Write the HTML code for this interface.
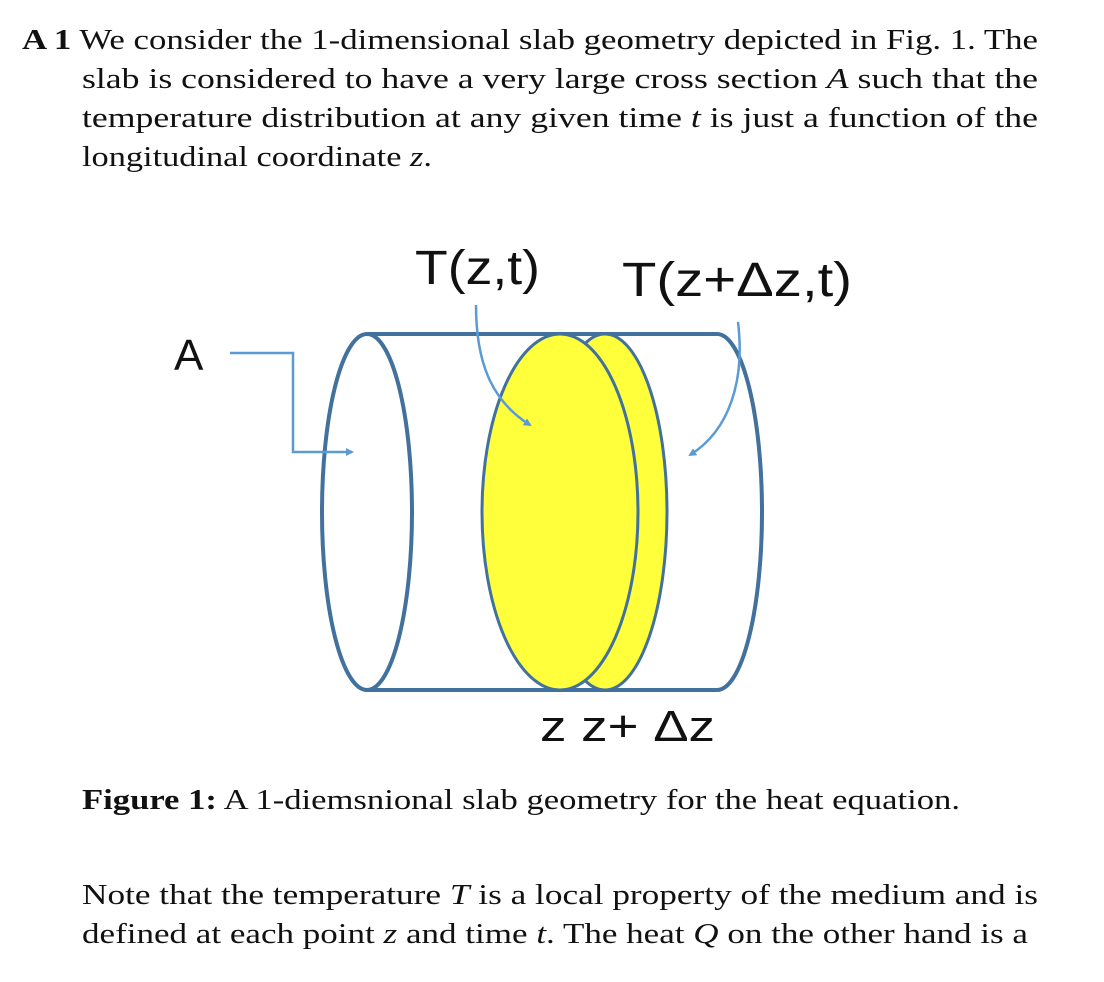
<!DOCTYPE html>
<html><head><style>
body{margin:0;width:1104px;height:982px;background:#fff;position:relative;overflow:hidden}
</style></head><body>
<svg width="1104" height="982" style="position:absolute;left:0;top:0">
<defs><marker id="ar" markerWidth="8" markerHeight="8" refX="6" refY="4" orient="auto" markerUnits="userSpaceOnUse"><path d="M0,0L8,4L0,8z" fill="#5b9bd5"/></marker></defs>
<g font-family="Liberation Serif, serif" font-size="29" fill="#111">
<text x="22" y="49" textLength="1016" lengthAdjust="spacingAndGlyphs"><tspan font-weight="bold">A 1</tspan> We consider the 1-dimensional slab geometry depicted in Fig. 1. The</text>
<text x="82" y="88" textLength="956" lengthAdjust="spacingAndGlyphs">slab is considered to have a very large cross section <tspan font-style="italic">A</tspan> such that the</text>
<text x="82" y="127" textLength="956" lengthAdjust="spacingAndGlyphs">temperature distribution at any given time <tspan font-style="italic">t</tspan> is just a function of the</text>
<text x="82" y="166" textLength="350" lengthAdjust="spacingAndGlyphs">longitudinal coordinate <tspan font-style="italic">z</tspan>.</text>
<text x="82" y="809" textLength="878" lengthAdjust="spacingAndGlyphs"><tspan font-weight="bold">Figure 1:</tspan> A 1-diemsnional slab geometry for the heat equation.</text>
<text x="82" y="904" textLength="956" lengthAdjust="spacingAndGlyphs">Note that the temperature <tspan font-style="italic">T</tspan> is a local property of the medium and is</text>
<text x="82" y="943" textLength="946" lengthAdjust="spacingAndGlyphs">defined at each point <tspan font-style="italic">z</tspan> and time <tspan font-style="italic">t</tspan>. The heat <tspan font-style="italic">Q</tspan> on the other hand is a</text>
</g>
<g stroke="#41719c" stroke-width="4" fill="none">
<path d="M367,334 H717 A45,178 0 0 1 717,690 H367"/>
<ellipse cx="367" cy="512" rx="45" ry="178" fill="#fff"/>
<ellipse cx="605" cy="512" rx="62" ry="178" fill="#ffff3c" stroke-width="3"/>
<ellipse cx="560" cy="512" rx="78" ry="178" fill="#ffff3c" stroke-width="3"/>
</g>
<g stroke="#5b9bd5" stroke-width="2.5" fill="none">
<path d="M230,353 H293 V452 H352" marker-end="url(#ar)"/>
<path d="M476,305 C476,360 490,400 530,425" marker-end="url(#ar)"/>
<path d="M738,322 C745,380 730,430 690,455" marker-end="url(#ar)"/>
</g>
<g fill="#111" font-family="Liberation Sans, sans-serif" font-size="48">
<text x="415" y="284" textLength="125" lengthAdjust="spacingAndGlyphs">T(z,t)</text>
<text x="622" y="296" textLength="230" lengthAdjust="spacingAndGlyphs">T(z+Δz,t)</text>
<text x="174" y="370" font-size="44">A</text>
<text x="540" y="741" font-size="44" textLength="175" lengthAdjust="spacingAndGlyphs">z  z+ Δz</text>
</g>
</svg>
</body></html>
